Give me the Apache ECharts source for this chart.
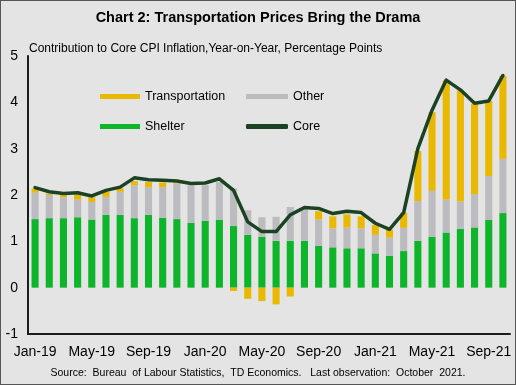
<!DOCTYPE html>
<html>
<head>
<meta charset="utf-8">
<script src="https://cdn.jsdelivr.net/npm/echarts@6/dist/echarts.min.js"></script>
<style>
html,body{margin:0;padding:0;background:#e4e4e4;}
#c{width:516px;height:385px;box-sizing:border-box;border:1px solid #555;}
</style>
</head>
<body>
<div id="c"></div>
<script>
const categories = ['Jan-19','Feb-19','Mar-19','Apr-19','May-19','Jun-19','Jul-19','Aug-19','Sep-19','Oct-19','Nov-19','Dec-19',
  'Jan-20','Feb-20','Mar-20','Apr-20','May-20','Jun-20','Jul-20','Aug-20','Sep-20','Oct-20','Nov-20','Dec-20',
  'Jan-21','Feb-21','Mar-21','Apr-21','May-21','Jun-21','Jul-21','Aug-21','Sep-21','Oct-21'];
const shelter = [1.48,1.50,1.50,1.52,1.47,1.57,1.57,1.50,1.57,1.51,1.48,1.40,1.44,1.46,1.33,1.14,1.10,1.01,1.01,1.01,0.90,0.87,0.85,0.85,0.74,0.69,0.79,1.01,1.10,1.19,1.27,1.30,1.46,1.61];
const other = [0.57,0.50,0.45,0.38,0.38,0.39,0.50,0.71,0.60,0.66,0.77,0.81,0.77,0.82,0.81,0.53,0.42,0.52,0.73,0.69,0.57,0.41,0.45,0.43,0.40,0.39,0.50,0.86,0.99,0.71,0.59,0.72,0.95,1.17];
const transportation = [0.09,0.03,0.05,0.10,0.10,0.11,0.07,0.09,0.11,0.10,0.02,0,0,0,-0.07,-0.24,-0.29,-0.36,-0.19,0,0.18,0.26,0.28,0.26,0.21,0.17,0.33,1.08,1.70,2.57,2.40,1.95,1.62,1.79];
const core = [2.16,2.07,2.03,2.05,1.98,2.10,2.17,2.37,2.33,2.32,2.30,2.25,2.26,2.35,2.10,1.42,1.21,1.21,1.57,1.73,1.71,1.60,1.65,1.62,1.39,1.26,1.62,3.00,3.83,4.48,4.27,3.98,4.03,4.58];
const yTicks = {min:-1, max:5, interval:1};

const font = '"Liberation Sans", Arial, sans-serif';
const chart = echarts.init(document.getElementById('c'));
chart.setOption({
  backgroundColor:'#e4e4e4',
  animation:false,
  textStyle:{fontFamily:font},
  title:[
    {text:'Chart 2: Transportation Prices Bring the Drama', left:'center', top:4,
     textStyle:{fontSize:14.5, fontWeight:'bold', color:'#000', fontFamily:font}},
    {text:'Contribution to Core CPI Inflation,Year-on-Year, Percentage Points', left:23, top:37,
     textStyle:{fontSize:12, fontWeight:'normal', color:'#000', fontFamily:font}},
    {text:'Source:  Bureau  of Labour Statistics,  TD Economics.   Last observation:  October  2021.', left:'center', top:362,
     textStyle:{fontSize:10.5, fontWeight:'normal', color:'#000', fontFamily:font}}
  ],
  legend:[
    {orient:'vertical', left:94, top:84, itemWidth:40, itemHeight:5, itemGap:17, icon:'rect',
     data:['Transportation','Shelter'], textStyle:{fontSize:12.5, color:'#000', fontFamily:font}},
    {orient:'vertical', left:240, top:84, itemWidth:42, itemHeight:5, itemGap:17,
     data:[{name:'Other', icon:'rect'},{name:'Core', icon:'roundRect'}], textStyle:{fontSize:12.5, color:'#000', fontFamily:font}}
  ],
  grid:{left:27, right:5, top:55, bottom:50},
  xAxis:[
    {type:'category', data:categories, axisLine:{show:false}, axisTick:{show:false},
     axisLabel:{interval:3, fontSize:14, color:'#000', margin:11, fontFamily:font}},
    {type:'category', data:categories, position:'bottom', axisLine:{onZero:true, lineStyle:{color:'#1c1c1c', width:2}},
     axisTick:{show:false}, axisLabel:{show:false}}
  ],
  yAxis:{type:'value', min:yTicks.min, max:yTicks.max, interval:yTicks.interval,
    axisLine:{show:true, onZero:false, lineStyle:{color:'#1c1c1c', width:2}}, axisTick:{show:false},
    splitLine:{show:false}, axisLabel:{fontSize:14, color:'#000', margin:10, fontFamily:font}},
  series:[
    {name:'Shelter', type:'bar', stack:'a', data:shelter, barWidth:'50%', itemStyle:{color:'#0db52b'}},
    {name:'Other', type:'bar', stack:'a', data:other, itemStyle:{color:'#bcbcc0'}},
    {name:'Transportation', type:'bar', stack:'a', data:transportation, itemStyle:{color:'#e9b800'}},
    {name:'Core', type:'line', data:core, symbol:'none', lineStyle:{color:'#1b4222', width:3.5, join:'round', cap:'round'},
     itemStyle:{color:'#1b4222'}, z:5}
  ]
});
</script>
</body>
</html>
